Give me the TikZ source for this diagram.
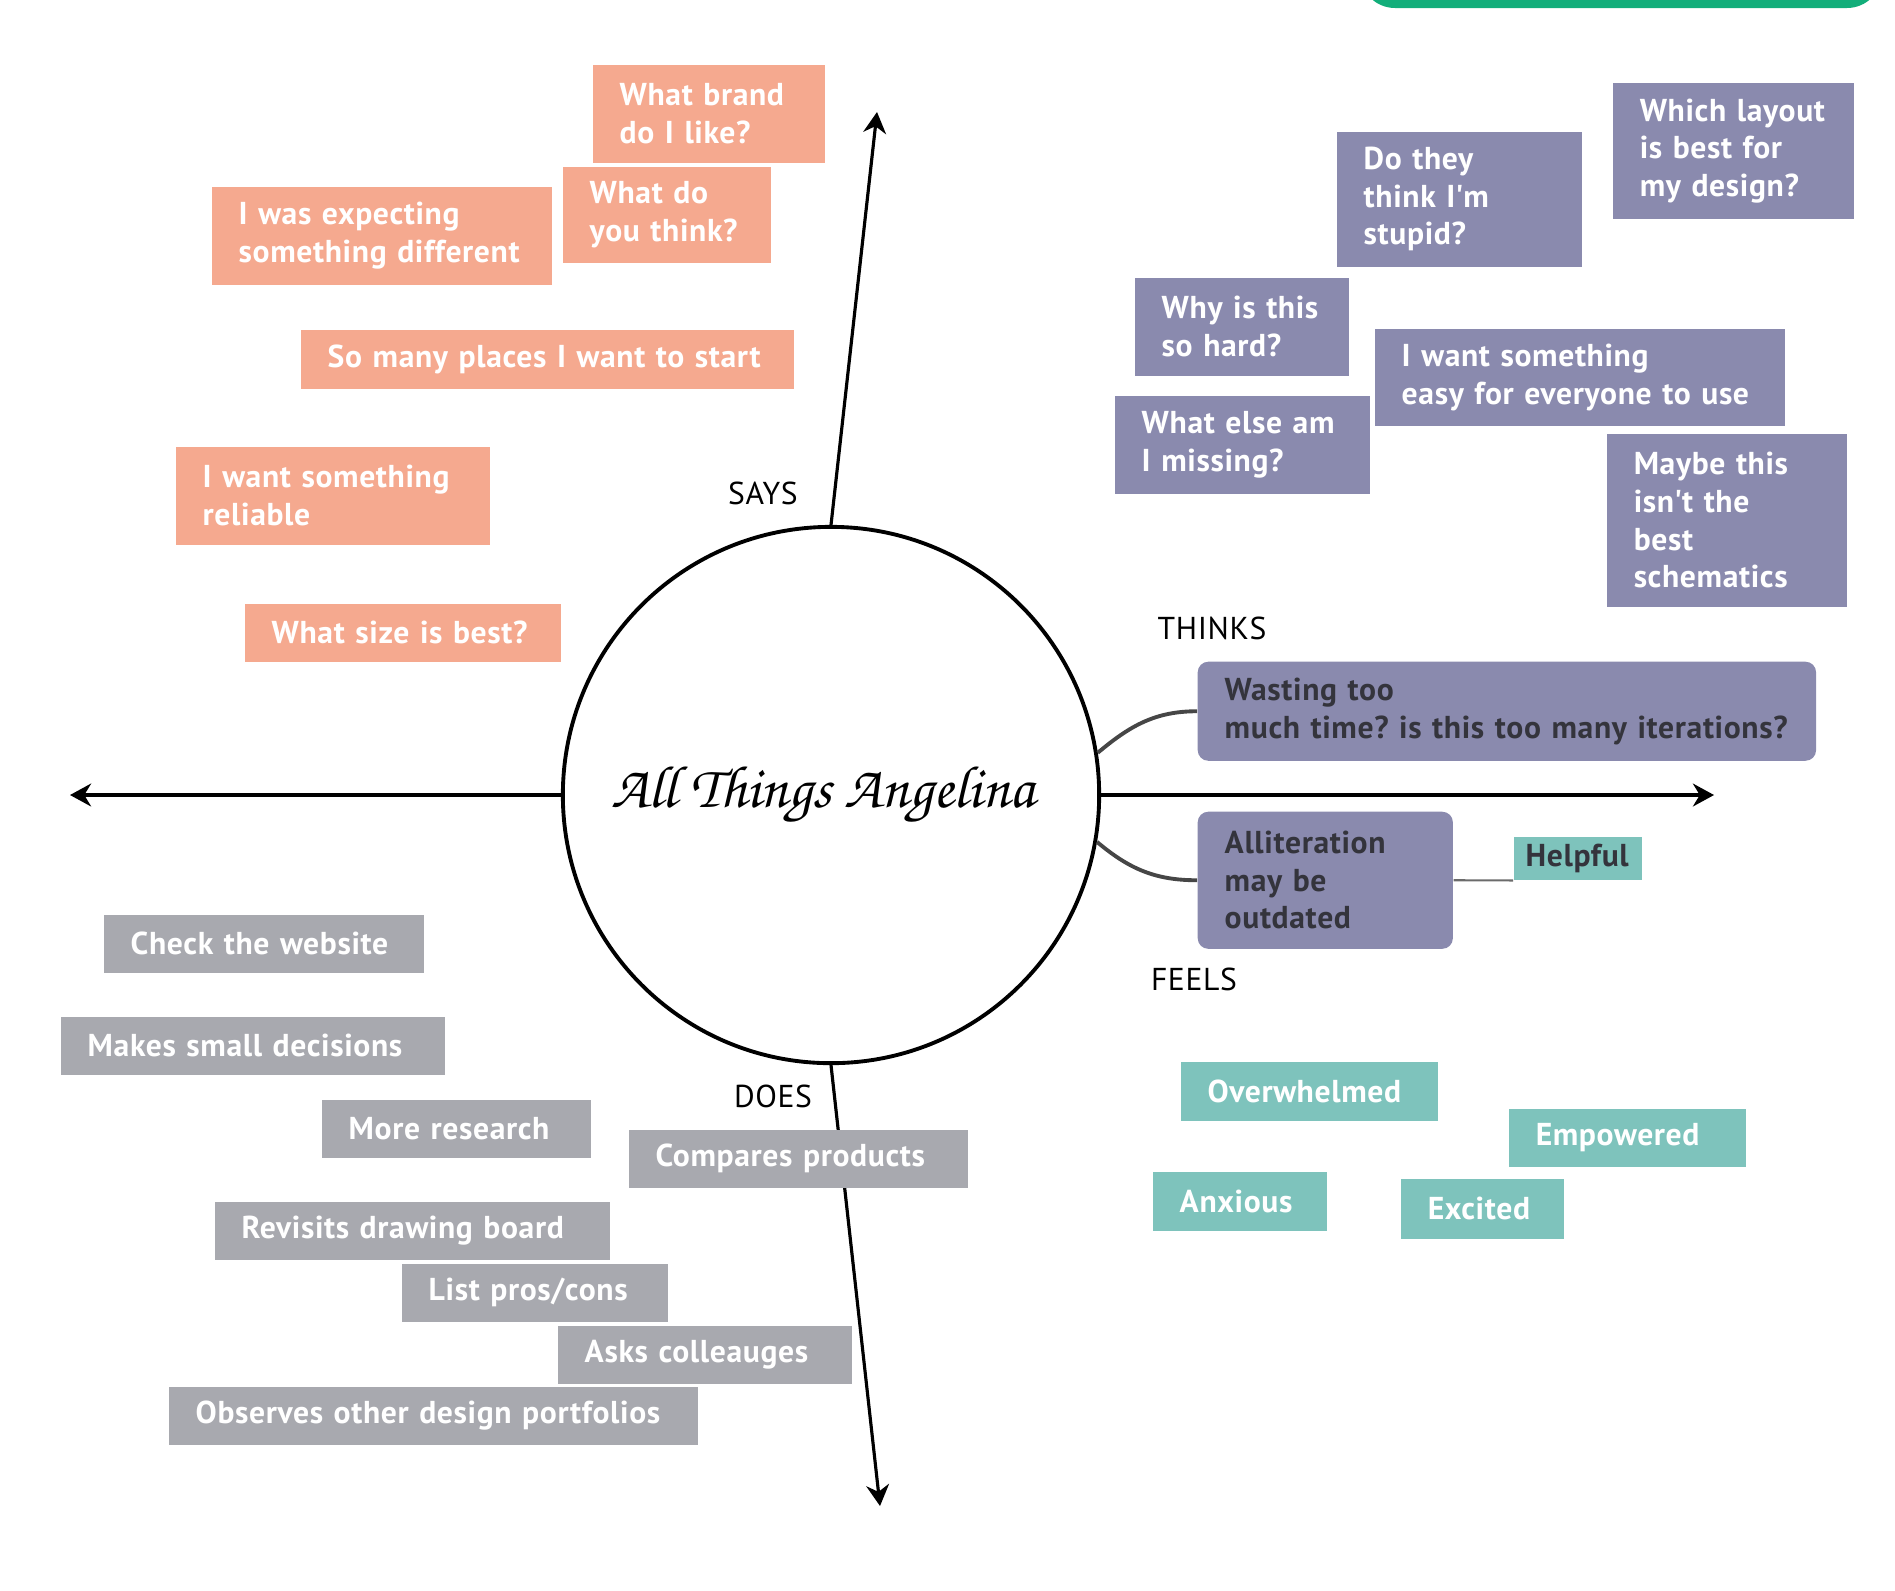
\documentclass[tikz,border=0pt]{standalone}
\usepackage{fontspec}
\setmainfont{PT Sans}[LetterSpace=2]
\newfontfamily\handfont{texgyrechorus-mediumitalic.otf}
\usetikzlibrary{arrows.meta}
\definecolor{saysFill}{HTML}{F5A98F}
\definecolor{thinksFill}{HTML}{8A8AAE}
\definecolor{feelsFill}{HTML}{7EC3BC}
\definecolor{doesFill}{HTML}{A8A9AF}
\definecolor{darkText}{HTML}{34343C}
\definecolor{linkGray}{HTML}{464646}
\definecolor{tabGreen}{HTML}{12AE7A}
\tikzset{
  note/.style={
    anchor=north west, inner xsep=0.27cm, inner ysep=0pt, align=left,
    font=\bfseries\fontsize{9}{10.7}\selectfont\frenchspacing, text=white,
  },
  saysnote/.style={note, fill=saysFill},
  thinksnote/.style={note, fill=thinksFill},
  feelsnote/.style={note, fill=feelsFill},
  doesnote/.style={note, fill=doesFill},
  quadrant/.style={font=\fontsize{9}{10}\selectfont, text=black},
  axis/.style={
    -{Stealth[length=6pt, width=6.5pt]}, line width=0.9pt,
  },
  link/.style={line width=1.1pt, draw=linkGray},
}

\begin{document}
\begin{tikzpicture}[x=0.01cm, y=-0.01cm]
  \clip (0,0) rectangle (1895,1590);

  % === Tab at the top ===
  \fill[tabGreen, rounded corners=0.35cm] (1360,-60) rectangle (1882,8);

  % === Centre ===
  \node[draw, circle, line width=1.1pt, minimum size=5.36cm, inner sep=0pt,
        font=\handfont\fontsize{17}{20}\selectfont] (hub) at (831,795) {All Things Angelina\kern0.16cm};

  % === Axes ===
  \coordinate (saysEnd) at (877,112);
  \coordinate (doesEnd) at (880,1506);
  \coordinate (leftEnd) at (70,795);
  \coordinate (rightEnd) at (1714,795);
  \draw[axis] (hub.north) -- (saysEnd);
  \draw[axis] (hub.south) -- (doesEnd);
  \draw[axis] (hub.west) -- (leftEnd);
  \draw[axis] (hub.east) -- (rightEnd);

  % === Quadrant labels ===
  \node[quadrant] (saysLbl) at (763,493) {SAYS};
  \node[quadrant] (thinksLbl) at (1212,628) {THINKS};
  \node[quadrant] (feelsLbl) at (1194,979) {FEELS};
  \node[quadrant] (doesLbl) at (773,1096) {DOES};

  % === Says ===
  \node[saysnote, text width=1.78cm, minimum height=0.98cm] (brand) at (592,64) {What brand\\do I like?};
  \node[saysnote, text width=1.54cm, minimum height=0.96cm] (think) at (562,166) {What do\\you think?};
  \node[saysnote, text width=2.86cm, minimum height=0.98cm] (expect) at (211,186) {I was expecting\\something different};
  \node[saysnote, text width=4.39cm, minimum height=0.59cm] (places) at (300,329) {So many places I want to start};
  \node[saysnote, text width=2.60cm, minimum height=0.98cm] (reliable) at (175,446) {I want something\\reliable};
  \node[saysnote, text width=2.62cm, minimum height=0.58cm] (size) at (244,603) {What size is best?};

  % === Thinks ===
  \node[thinksnote, text width=1.91cm, minimum height=1.35cm] (stupid) at (1336,131) {Do they\\think I\textquotesingle m\\stupid?};
  \node[thinksnote, text width=1.87cm, minimum height=1.36cm] (layout) at (1612,82) {Which layout\\is best for\\my design?};
  \node[thinksnote, text width=1.60cm, minimum height=0.98cm] (hard) at (1134,277) {Why is this\\so hard?};
  \node[thinksnote, text width=3.56cm, minimum height=0.97cm] (easy) at (1374,328) {I want something\\easy for everyone to use};
  \node[thinksnote, text width=2.01cm, minimum height=0.98cm] (missing) at (1114,395) {What else am\\I missing?};
  \node[thinksnote, text width=1.86cm, minimum height=1.73cm] (schematics) at (1606,433) {Maybe this\\isn\textquotesingle t the\\best\\schematics};
  \node[thinksnote, rounded corners=3pt, text=darkText, text width=5.64cm, minimum height=0.99cm] (wasting) at (1197,661) {Wasting too\\\mbox{much time? is this too many iterations?}};
  \node[thinksnote, rounded corners=3pt, text=darkText, text width=2.01cm, minimum height=1.37cm] (allit) at (1197,811) {Alliteration\\may be\\outdated};

  % === Feels ===
  \node[feelsnote, text=darkText, inner xsep=0.12cm, text width=1.04cm, minimum height=0.43cm] (helpful) at (1513,836) {Helpful};
  \node[feelsnote, text width=2.03cm, minimum height=0.59cm] (overwhelmed) at (1180,1061) {Overwhelmed};
  \node[feelsnote, text width=1.83cm, minimum height=0.58cm] (empowered) at (1508,1108) {Empowered};
  \node[feelsnote, text width=1.20cm, minimum height=0.59cm] (anxious) at (1152,1171) {Anxious};
  \node[feelsnote, text width=1.09cm, minimum height=0.60cm] (excited) at (1400,1178) {Excited};

  % === Does ===
  \node[doesnote, text width=2.66cm, minimum height=0.58cm] (website) at (103,914) {Check the website};
  \node[doesnote, text width=3.30cm, minimum height=0.58cm] (decisions) at (60,1016) {Makes small decisions};
  \node[doesnote, text width=2.15cm, minimum height=0.58cm] (research) at (321,1099) {More research};
  \node[doesnote, text width=2.85cm, minimum height=0.58cm] (compares) at (628,1129) {Compares products};
  \node[doesnote, text width=3.41cm, minimum height=0.58cm] (revisits) at (214,1201) {Revisits drawing board};
  \node[doesnote, text width=2.12cm, minimum height=0.58cm] (pros) at (401,1263) {List pros/cons};
  \node[doesnote, text width=2.40cm, minimum height=0.58cm] (asks) at (557,1325) {Asks colleauges};
  \node[doesnote, text width=4.75cm, minimum height=0.58cm] (observes) at (168,1386) {Observes other design portfolios};

  % === Links ===
  \draw[link] (hub.9) to[out=40, in=180] (wasting.west);
  \draw[link] (hub.-10) to[out=-40, in=180] (allit.west);
  \draw[line width=0.6pt, draw=linkGray!80] (allit.east) -- (helpful.south west);

\end{tikzpicture}
\end{document}
